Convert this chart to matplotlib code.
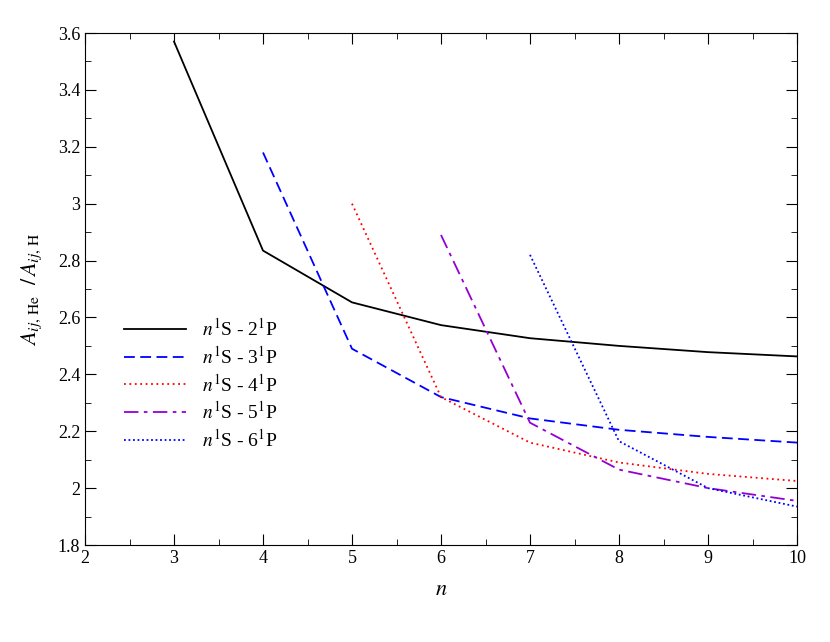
import matplotlib
matplotlib.use("Agg")
import matplotlib.pyplot as plt
from matplotlib.ticker import MultipleLocator

plt.rcParams["font.family"] = "Liberation Serif"
plt.rcParams["mathtext.fontset"] = "stix"

n2 = [3, 4, 5, 6, 7, 8, 9, 10]
y2 = [3.57, 2.835, 2.653, 2.573, 2.527, 2.50, 2.478, 2.463]
n3 = [4, 5, 6, 7, 8, 9, 10]
y3 = [3.18, 2.49, 2.32, 2.245, 2.205, 2.18, 2.16]
n4 = [5, 6, 7, 8, 9, 10]
y4 = [3.0, 2.32, 2.16, 2.09, 2.05, 2.025]
n5 = [6, 7, 8, 9, 10]
y5 = [2.89, 2.23, 2.065, 2.0, 1.955]
n6 = [7, 8, 9, 10]
y6 = [2.82, 2.165, 2.0, 1.935]
xticks = [2, 3, 4, 5, 6, 7, 8, 9, 10]
yticks = [1.8, 2, 2.2, 2.4, 2.6, 2.8, 3, 3.2, 3.4, 3.6]
ytick_labels = ["1.8", "2", "2.2", "2.4", "2.6", "2.8", "3", "3.2", "3.4", "3.6"]
labels = [r"$n^{\rm 1}$S - 2$^{\rm 1}$P", r"$n^{\rm 1}$S - 3$^{\rm 1}$P",
          r"$n^{\rm 1}$S - 4$^{\rm 1}$P", r"$n^{\rm 1}$S - 5$^{\rm 1}$P",
          r"$n^{\rm 1}$S - 6$^{\rm 1}$P"]

fig = plt.figure(figsize=(8.3, 6.42), dpi=100)
ax = fig.add_axes([85/830, 97/642, 712/830, 512/642])
ax.plot(n2, y2, color="black", lw=1.3, ls="-", label=labels[0])
ax.plot(n3, y3, color="#0000ff", lw=1.3, ls=(0, (6, 3)), label=labels[1])
ax.plot(n4, y4, color="#ff0000", lw=1.3, ls=(0, (1, 2)), label=labels[2])
ax.plot(n5, y5, color="#9400d3", lw=1.3, ls=(0, (8, 3, 2, 3)), label=labels[3])
ax.plot(n6, y6, color="#0000ff", lw=1.3, ls=(0, (1, 1.5)), label=labels[4])
ax.set_xlim(2, 10)
ax.set_ylim(1.8, 3.6)
ax.set_xticks(xticks)
ax.set_xticklabels([str(v) for v in xticks])
ax.set_yticks(yticks)
ax.set_yticklabels(ytick_labels)
ax.xaxis.set_minor_locator(MultipleLocator(0.5))
ax.yaxis.set_minor_locator(MultipleLocator(0.1))
ax.tick_params(which="both", direction="in", top=True, right=True, labelsize=13)
ax.tick_params(which="major", length=8)
ax.tick_params(which="minor", length=4)
ax.set_xlabel(r"$n$", fontsize=16, labelpad=10)
ax.set_ylabel(r"$A_{ij,\,\rm He}\ \ /\, A_{ij,\,\rm H}$", fontsize=16, labelpad=10)
ax.legend(loc="lower left", bbox_to_anchor=(0.03, 0.15), frameon=False, fontsize=14,
          handlelength=3.2, labelspacing=0.3)
fig.savefig("out.png", dpi=100)
